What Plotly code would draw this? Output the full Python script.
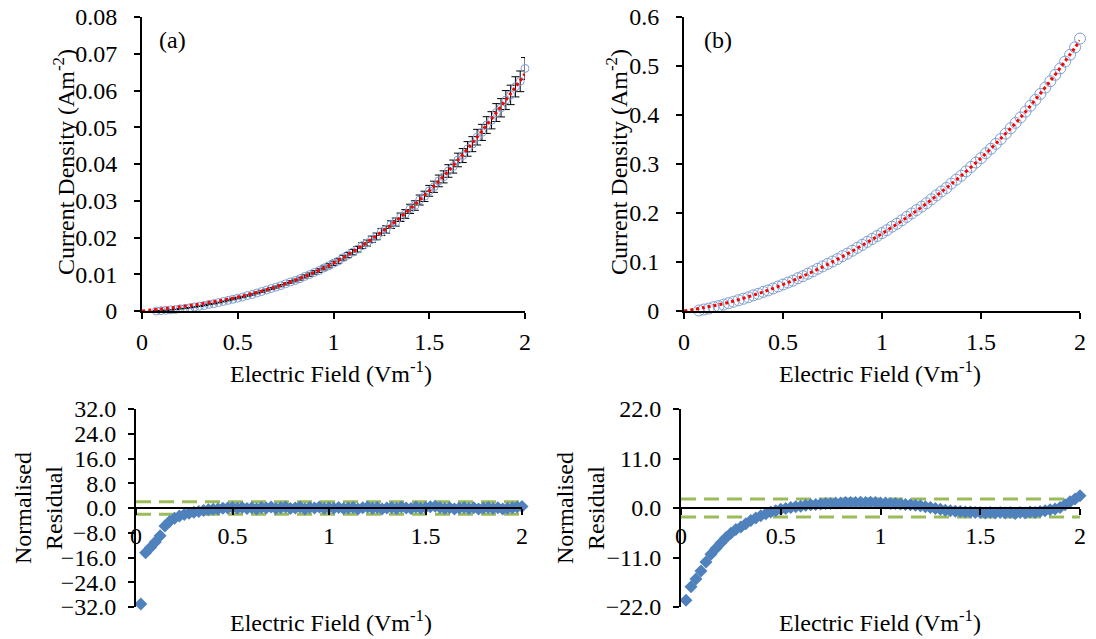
import numpy as np
import plotly.graph_objects as go

# ---------------- data ----------------
# measurement grid (Electric field, V/m)
E_data = np.round(np.arange(0, 81) * 0.025, 3)          # 0 .. 2.0
E_res = E_data[1:]                                       # 0.025 .. 2.0
E_fit = np.round(np.arange(0, 21) * 0.1, 2)              # 0 .. 2.0

# (a) current density data
J_a = [-0.0002, -0.0002, -0.0001, 0.0000, 0.0001, 0.0002, 0.0003, 0.0004, 0.0006, 0.0007,
       0.0009, 0.0011, 0.0013, 0.0015, 0.0018, 0.0020, 0.0023, 0.0026, 0.0029, 0.0032,
       0.0035, 0.0038, 0.0042, 0.0045, 0.0049, 0.0053, 0.0057, 0.0061, 0.0065, 0.0069,
       0.0074, 0.0079, 0.0083, 0.0088, 0.0094, 0.0099, 0.0105, 0.0110, 0.0117, 0.0123,
       0.0130, 0.0136, 0.0145, 0.0152, 0.0160, 0.0168, 0.0178, 0.0185, 0.0195, 0.0203,
       0.0215, 0.0222, 0.0235, 0.0242, 0.0255, 0.0264, 0.0278, 0.0287, 0.0302, 0.0312,
       0.0327, 0.0338, 0.0354, 0.0365, 0.0381, 0.0393, 0.0411, 0.0423, 0.0441, 0.0454,
       0.0473, 0.0486, 0.0506, 0.0519, 0.0540, 0.0553, 0.0574, 0.0588, 0.0610, 0.0625,
       0.0660]
# (a) fitted curve
J_a_fit = [0, 0.00054, 0.00115, 0.00188, 0.00275, 0.0038, 0.00507, 0.00659, 0.00839, 0.01052,
           0.0130, 0.0161, 0.0196, 0.0234, 0.0278, 0.0327, 0.0381, 0.0441, 0.0506, 0.0574,
           0.0645]
err_pct_a = 4.5

# (b) current density data
J_b = [-0.004, -0.003, -0.001, 0.001, 0.003, 0.005, 0.008, 0.010, 0.013, 0.016,
       0.019, 0.022, 0.025, 0.028, 0.032, 0.035, 0.039, 0.042, 0.046, 0.050,
       0.054, 0.058, 0.062, 0.067, 0.071, 0.076, 0.081, 0.086, 0.091, 0.096,
       0.101, 0.106, 0.112, 0.117, 0.123, 0.129, 0.135, 0.141, 0.147, 0.153,
       0.159, 0.165, 0.172, 0.178, 0.185, 0.192, 0.199, 0.206, 0.213, 0.220,
       0.228, 0.236, 0.244, 0.251, 0.260, 0.268, 0.276, 0.285, 0.294, 0.303,
       0.312, 0.322, 0.331, 0.341, 0.351, 0.362, 0.373, 0.384, 0.395, 0.407,
       0.419, 0.431, 0.443, 0.456, 0.469, 0.482, 0.495, 0.509, 0.523, 0.538,
       0.556]
J_b_fit = [0, 0.007, 0.015, 0.026, 0.039, 0.054, 0.071, 0.090, 0.111, 0.134,
           0.158, 0.184, 0.212, 0.243, 0.276, 0.312, 0.352, 0.395, 0.444, 0.496,
           0.552]

# normalised residuals
R_a = [-31.0, -14.5, -12.8, -11.0, -9.0, -5.8, -4.3, -3.3, -2.6, -2.1,
       -1.7, -1.4, -1.1, -0.8, -0.6, -0.4, -0.3, -0.1, 0.0, 0.2,
       -0.1, 0.2, -0.2, 0.1, -0.3, 0.2, 0.0, 0.3, -0.2, 0.1,
       0.3, -0.2, 0.0, 0.3, -0.3, 0.2, 0.0, 0.3, -0.2, 0.1,
       -0.1, 0.2, -0.2, 0.0, 0.2, -0.3, 0.1, 0.3, -0.1, 0.2,
       -0.3, 0.0, 0.2, -0.2, 0.3, 0.0, -0.2, 0.3, -0.1, 0.2,
       0.4, 0.6, 0.2, -0.2, 0.1, -0.3, 0.0, 0.2, -0.2, 0.1,
       -0.3, 0.0, 0.2, -0.2, 0.1, -0.3, -0.1, 0.1, 0.3, 0.5]
R_b = [-20.5, -17.5, -15.8, -14.0, -12.0, -10.3, -9.0, -7.8, -6.6, -5.6,
       -4.8, -4.2, -3.5, -2.8, -2.2, -1.7, -1.3, -0.9, -0.6, -0.3,
       -0.1, 0.1, 0.3, 0.4, 0.6, 0.7, 0.8, 0.9, 1.0, 1.0,
       1.1, 1.1, 1.2, 1.2, 1.2, 1.3, 1.2, 1.3, 1.2, 1.1,
       1.1, 1.0, 1.0, 0.9, 0.8, 0.7, 0.6, 0.5, 0.3, 0.1,
       -0.1, -0.3, -0.5, -0.6, -0.7, -0.8, -0.9, -0.9, -1.0, -1.0,
       -1.1, -1.0, -1.1, -1.0, -1.1, -1.0, -1.2, -1.0, -1.1, -0.9,
       -1.0, -0.8, -0.6, -0.4, -0.2, 0.1, 0.7, 1.4, 2.0, 2.7]
band = 2.0        # +/- limit lines
x_range = [0, 2]

# ---------------- styling ----------------
FONT = "Liberation Serif"
BLUE = "#4F81BD"
CIRC = "#7E9FD0"
GREEN = "#9BBB59"
FS = 24

fig = go.Figure()

# (a)
fig.add_trace(go.Scatter(x=E_data, y=J_a, mode="markers", xaxis="x", yaxis="y",
                         marker=dict(symbol="circle-open", size=8, color=CIRC, line=dict(width=1)),
                         error_y=dict(type="percent", value=err_pct_a, color="black", thickness=1, width=4),
                         cliponaxis=False, showlegend=False))
fig.add_trace(go.Scatter(x=E_fit, y=J_a_fit, mode="lines", xaxis="x", yaxis="y", line_shape="spline",
                         line=dict(color="red", width=3, dash="dot"), showlegend=False))
# (b)
fig.add_trace(go.Scatter(x=E_data, y=J_b, mode="markers", xaxis="x2", yaxis="y2",
                         marker=dict(symbol="circle-open", size=11, color=CIRC, line=dict(width=1)),
                         cliponaxis=False, showlegend=False))
fig.add_trace(go.Scatter(x=E_fit, y=J_b_fit, mode="lines", xaxis="x2", yaxis="y2", line_shape="spline",
                         line=dict(color="red", width=3, dash="dot"), showlegend=False))

# residual panels
for xa, ya, R in (("x3", "y3", R_a), ("x4", "y4", R_b)):
    for lvl in (band, -band):
        fig.add_trace(go.Scatter(x=x_range, y=[lvl, lvl], mode="lines", xaxis=xa, yaxis=ya,
                                 line=dict(color=GREEN, width=3, dash="15px,8px"), showlegend=False))
    fig.add_trace(go.Scatter(x=E_res, y=R, mode="markers", xaxis=xa, yaxis=ya,
                             marker=dict(symbol="diamond", size=10, color=BLUE),
                             cliponaxis=False, showlegend=False))

W, H = 1096, 639
def px(xp): return xp / W
def py(yp): return 1 - yp / H

tf = dict(family=FONT, size=FS, color="black")
common_x = dict(range=x_range, dtick=0.5, showline=True, linecolor="black", linewidth=2,
                ticks="outside", ticklen=6, tickwidth=2, tickcolor="black", showgrid=False,
                zeroline=False, tickfont=tf, automargin=False)
common_y = dict(showline=True, linecolor="black", linewidth=2, ticks="outside", ticklen=6,
                tickwidth=2, tickcolor="black", showgrid=False, zeroline=False, tickfont=tf,
                automargin=False)

top_dom = [py(311), py(17)]
bot_dom = [py(607), py(409)]
bot_mid = (bot_dom[0] + bot_dom[1]) / 2

fig.update_layout(
    width=W, height=H, margin=dict(l=0, r=0, t=0, b=0, autoexpand=False),
    plot_bgcolor="white", paper_bgcolor="white", font=tf,
    xaxis=dict(domain=[px(142), px(525)], anchor="y", ticklabelstandoff=2, **common_x),
    yaxis=dict(domain=top_dom, anchor="x", range=[0, 0.08], dtick=0.01, ticklabelstandoff=12, **common_y),
    xaxis2=dict(domain=[px(684), px(1080)], anchor="y2", ticklabelstandoff=2, **common_x),
    yaxis2=dict(domain=top_dom, anchor="x2", range=[0, 0.6], dtick=0.1, ticklabelstandoff=12, **common_y),
    xaxis3=dict(domain=[px(136), px(522)], anchor="free", position=bot_mid, ticklabelstandoff=0, **common_x),
    yaxis3=dict(domain=bot_dom, anchor="x3", range=[-32, 32], dtick=8, tickformat=".1f",
                ticklabelstandoff=7, **common_y),
    xaxis4=dict(domain=[px(681), px(1080)], anchor="free", position=bot_mid, ticklabelstandoff=0, **common_x),
    yaxis4=dict(domain=bot_dom, anchor="x4", range=[-22, 22], dtick=11, tickformat=".1f",
                ticklabelstandoff=7, **common_y),
)

ann = []
def add_text(text, x, y, angle=0):
    ann.append(dict(text=text, x=px(x), y=py(y), xref="paper", yref="paper", showarrow=False,
                    textangle=angle, font=tf, xanchor="center", yanchor="middle"))

add_text("(a)", 172, 40)
add_text("(b)", 718, 40)
add_text("Current Density (Am<sup>-2</sup>)", 64, 162, angle=-90)
add_text("Current Density (Am<sup>-2</sup>)", 617, 162, angle=-90)
add_text("Electric Field (Vm<sup>-1</sup>)", 331, 372)
add_text("Electric Field (Vm<sup>-1</sup>)", 880, 372)
add_text("Electric Field (Vm<sup>-1</sup>)", 331, 621)
add_text("Electric Field (Vm<sup>-1</sup>)", 880, 621)
add_text("Normalised<br>Residual", 38, 508, angle=-90)
add_text("Normalised<br>Residual", 580, 508, angle=-90)
fig.update_layout(annotations=ann)

fig.write_html("out.html", config={"displayModeBar": False},
               post_script="document.body.style.margin='0';document.body.style.overflow='hidden';")
